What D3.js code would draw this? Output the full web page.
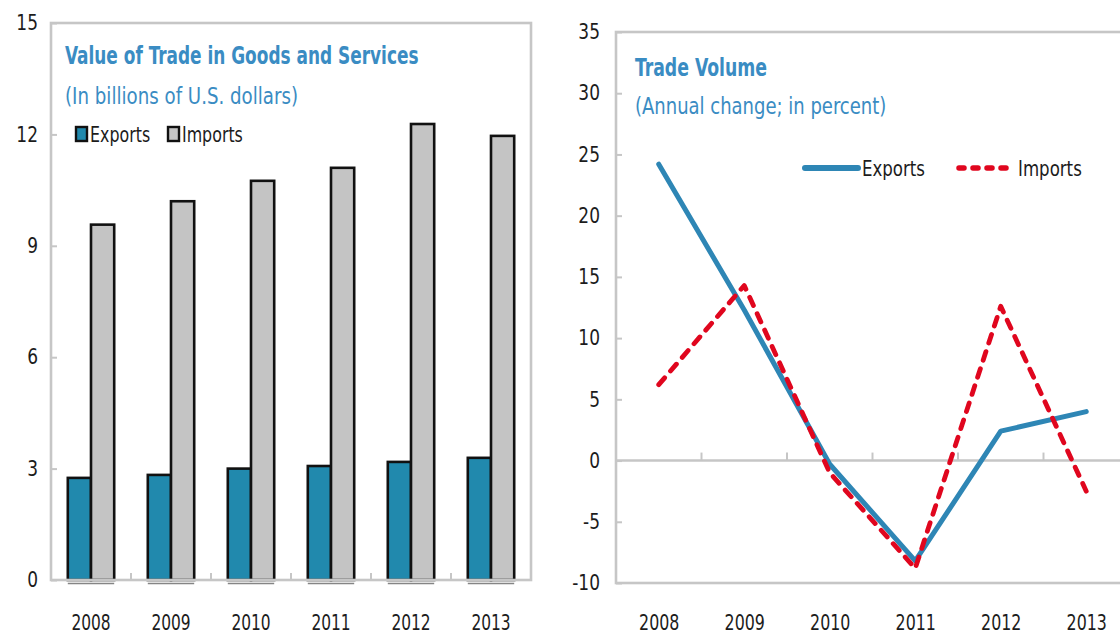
<!DOCTYPE html>
<html>
<head>
<meta charset="utf-8">
<script src="https://cdn.jsdelivr.net/npm/d3@7"></script>
<style>
  html, body { margin: 0; padding: 0; background: #ffffff; }
  svg { display: block; }
  text { font-family: "Liberation Sans Narrow", "DejaVu Sans Condensed", "Open Sans", sans-serif; }
</style>
</head>
<body>
<svg id="chart" width="1120" height="637"></svg>
<script>
// Years shared by both panels
const years = ["2008", "2009", "2010", "2011", "2012", "2013"];

// Value of trade, billions of U.S. dollars
const exportsValue = [2.75, 2.83, 3.0, 3.07, 3.18, 3.29];
const importsValue = [9.57, 10.2, 10.75, 11.1, 12.28, 11.96];
const valueTicks = [0, 3, 6, 9, 12, 15];

// Trade volume, annual change in percent
const exportsVolume = [24.2, 12.3, -0.3, -8.2, 2.4, 4.0];
const importsVolume = [6.2, 14.3, -1.0, -8.8, 12.6, -2.5];
const volumeTicks = [-10, -5, 0, 5, 10, 15, 20, 25, 30, 35];

const seriesNames = ["Exports", "Imports"];

const C = {
  frame: "#c6c6c6",
  title: "#3a8cc3",
  tick: "#1c1c1c",
  expBar: "#2189ad",
  impBar: "#c4c4c4",
  expLine: "#2e86b5",
  impLine: "#e0061e"
};

// Narrow a text element horizontally around its own anchor point
function squeeze(sel, sx) {
  sel.each(function () {
    const t = d3.select(this);
    const x = +t.attr("x") || 0;
    const y = +t.attr("y") || 0;
    t.attr("x", 0).attr("y", 0)
      .attr("transform", `translate(${x},${y}) scale(${sx},1)`);
  });
}

const svg = d3.select("#chart");
svg.append("rect").attr("width", 1120).attr("height", 637).attr("fill", "#fff");

/* ---------------- Left panel: bars ---------------- */
const L = { left: 51, right: 531, top: 23, bottom: 580 };
const yL = d3.scaleLinear().domain([0, 15]).range([L.bottom, L.top]);
const xL = d3.scaleBand().domain(years).range([L.left, L.right])
  .paddingInner(0.42).paddingOuter(0.21);
const xS = d3.scaleBand().domain(seriesNames).range([0, xL.bandwidth()]);

const barRows = years.map((y, i) => ({ year: y, Exports: exportsValue[i], Imports: importsValue[i] }));

const left = svg.append("g");

const groups = left.selectAll("g.year").data(barRows).join("g")
  .attr("class", "year")
  .attr("transform", d => `translate(${xL(d.year)},0)`);

groups.selectAll("rect").data(d => seriesNames.map(k => ({ key: k, value: d[k] }))).join("rect")
  .attr("x", d => xS(d.key))
  .attr("width", xS.bandwidth())
  .attr("y", d => yL(d.value))
  .attr("height", d => yL(0) - yL(d.value))
  .attr("fill", d => d.key === "Exports" ? C.expBar : C.impBar)
  .attr("stroke", "#111")
  .attr("stroke-width", 2.6);

// shadow line under each pair of bars
groups.append("line")
  .attr("x1", 0).attr("x2", xL.bandwidth())
  .attr("y1", yL(0) + 3.5).attr("y2", yL(0) + 3.5)
  .attr("stroke", "#858585").attr("stroke-width", 1.5);

// frame
left.append("rect")
  .attr("x", L.left).attr("y", L.top)
  .attr("width", L.right - L.left).attr("height", L.bottom - L.top)
  .attr("fill", "none").attr("stroke", C.frame).attr("stroke-width", 2.6);

// y axis
const yAxisL = left.append("g").attr("transform", `translate(${L.left},0)`)
  .call(d3.axisLeft(yL).tickValues(valueTicks).tickFormat(d => String(d))
    .tickSize(-6).tickPadding(13));
yAxisL.select(".domain").remove();
yAxisL.selectAll(".tick line").attr("stroke", C.frame).attr("stroke-width", 2);
yAxisL.selectAll(".tick text").attr("fill", C.tick).attr("font-size", 21);
squeeze(yAxisL.selectAll(".tick text"), 0.9);

// x axis labels
const xAxisL = left.append("g").attr("transform", `translate(0,${L.bottom})`)
  .call(d3.axisBottom(xL).tickSize(0).tickPadding(34));
xAxisL.select(".domain").remove();
xAxisL.selectAll(".tick text").attr("fill", C.tick).attr("font-size", 22);
squeeze(xAxisL.selectAll(".tick text"), 0.78);

// category separators
left.selectAll("line.sep").data(years.slice(1)).join("line")
  .attr("class", "sep")
  .attr("x1", d => xL(d) - xL.step() * xL.paddingInner() / 2)
  .attr("x2", d => xL(d) - xL.step() * xL.paddingInner() / 2)
  .attr("y1", L.bottom).attr("y2", L.bottom - 7)
  .attr("stroke", C.frame).attr("stroke-width", 2);

// titles
const tL1 = left.append("text").attr("x", 65).attr("y", 64)
  .attr("fill", C.title).attr("font-size", 24).attr("font-weight", "bold")
  .text("Value of Trade in Goods and Services");
squeeze(tL1, 0.785);
const tL2 = left.append("text").attr("x", 65).attr("y", 104)
  .attr("fill", C.title).attr("font-size", 23)
  .text("(In billions of U.S. dollars)");
squeeze(tL2, 0.88);

// legend
const legL = left.append("g").attr("transform", "translate(76,127)");
const legItemsL = legL.selectAll("g").data(seriesNames).join("g")
  .attr("transform", (d, i) => `translate(${i * 92},0)`);
legItemsL.append("rect").attr("width", 11).attr("height", 14)
  .attr("fill", d => d === "Exports" ? C.expBar : C.impBar)
  .attr("stroke", "#111").attr("stroke-width", 2.4);
const legTextL = legItemsL.append("text").attr("x", 14).attr("y", 15)
  .attr("fill", C.tick).attr("font-size", 21).text(d => d);
squeeze(legTextL, 0.84);

/* ---------------- Right panel: lines ---------------- */
const R = { left: 616, right: 1129, top: 32, bottom: 583 };
const yR = d3.scaleLinear().domain([-10, 35]).range([R.bottom, R.top]);
const xR = d3.scalePoint().domain(years).range([R.left, R.right]).padding(0.5);

const right = svg.append("g");

right.append("rect")
  .attr("x", R.left).attr("y", R.top)
  .attr("width", R.right - R.left).attr("height", R.bottom - R.top)
  .attr("fill", "none").attr("stroke", C.frame).attr("stroke-width", 2.6);

// zero line
right.append("line")
  .attr("x1", R.left).attr("x2", R.right)
  .attr("y1", yR(0)).attr("y2", yR(0))
  .attr("stroke", C.frame).attr("stroke-width", 2.6);

// category separators on the zero line
right.selectAll("line.sep").data(years.slice(1)).join("line")
  .attr("class", "sep")
  .attr("x1", d => xR(d) - xR.step() / 2)
  .attr("x2", d => xR(d) - xR.step() / 2)
  .attr("y1", yR(0)).attr("y2", yR(0) - 8)
  .attr("stroke", C.frame).attr("stroke-width", 2);

const yAxisR = right.append("g").attr("transform", `translate(${R.left},0)`)
  .call(d3.axisLeft(yR).tickValues(volumeTicks).tickFormat(d => String(d))
    .tickSize(-6).tickPadding(16));
yAxisR.select(".domain").remove();
yAxisR.selectAll(".tick line").attr("stroke", C.frame).attr("stroke-width", 2);
yAxisR.selectAll(".tick text").attr("fill", C.tick).attr("font-size", 21);
squeeze(yAxisR.selectAll(".tick text"), 0.9);

const xAxisR = right.append("g").attr("transform", `translate(0,${R.bottom})`)
  .call(d3.axisBottom(xR).tickSize(0).tickPadding(31));
xAxisR.select(".domain").remove();
xAxisR.selectAll(".tick text").attr("fill", C.tick).attr("font-size", 22);
squeeze(xAxisR.selectAll(".tick text"), 0.8);

const line = d3.line().x((d, i) => xR(years[i])).y(d => yR(d));

right.append("path").datum(exportsVolume)
  .attr("d", line).attr("fill", "none")
  .attr("stroke", C.expLine).attr("stroke-width", 5)
  .attr("stroke-linecap", "round").attr("stroke-linejoin", "round");

right.append("path").datum(importsVolume)
  .attr("d", line).attr("fill", "none")
  .attr("stroke", C.impLine).attr("stroke-width", 4.8)
  .attr("stroke-dasharray", "9,9")
  .attr("stroke-linecap", "round").attr("stroke-linejoin", "round");

// titles
const tR1 = right.append("text").attr("x", 635).attr("y", 76)
  .attr("fill", C.title).attr("font-size", 24).attr("font-weight", "bold")
  .text("Trade Volume");
squeeze(tR1, 0.8);
const tR2 = right.append("text").attr("x", 635).attr("y", 114)
  .attr("fill", C.title).attr("font-size", 23)
  .text("(Annual change; in percent)");
squeeze(tR2, 0.87);

// legend
const legR = right.append("g").attr("transform", "translate(803,168)");
const legItemsR = legR.selectAll("g").data(seriesNames).join("g")
  .attr("transform", (d, i) => `translate(${i * 154},0)`);
legItemsR.append("line").attr("x1", 2).attr("x2", d => d === "Exports" ? 55 : 56)
  .attr("stroke", d => d === "Exports" ? C.expLine : C.impLine)
  .attr("stroke-width", d => d === "Exports" ? 6 : 5.5)
  .attr("stroke-linecap", "round")
  .attr("stroke-dasharray", d => d === "Exports" ? null : "5,9");
const legTextR = legItemsR.append("text").attr("x", d => d === "Exports" ? 59 : 61).attr("y", 8)
  .attr("fill", C.tick).attr("font-size", 21).text(d => d);
squeeze(legTextR, 0.88);
</script>
</body>
</html>
